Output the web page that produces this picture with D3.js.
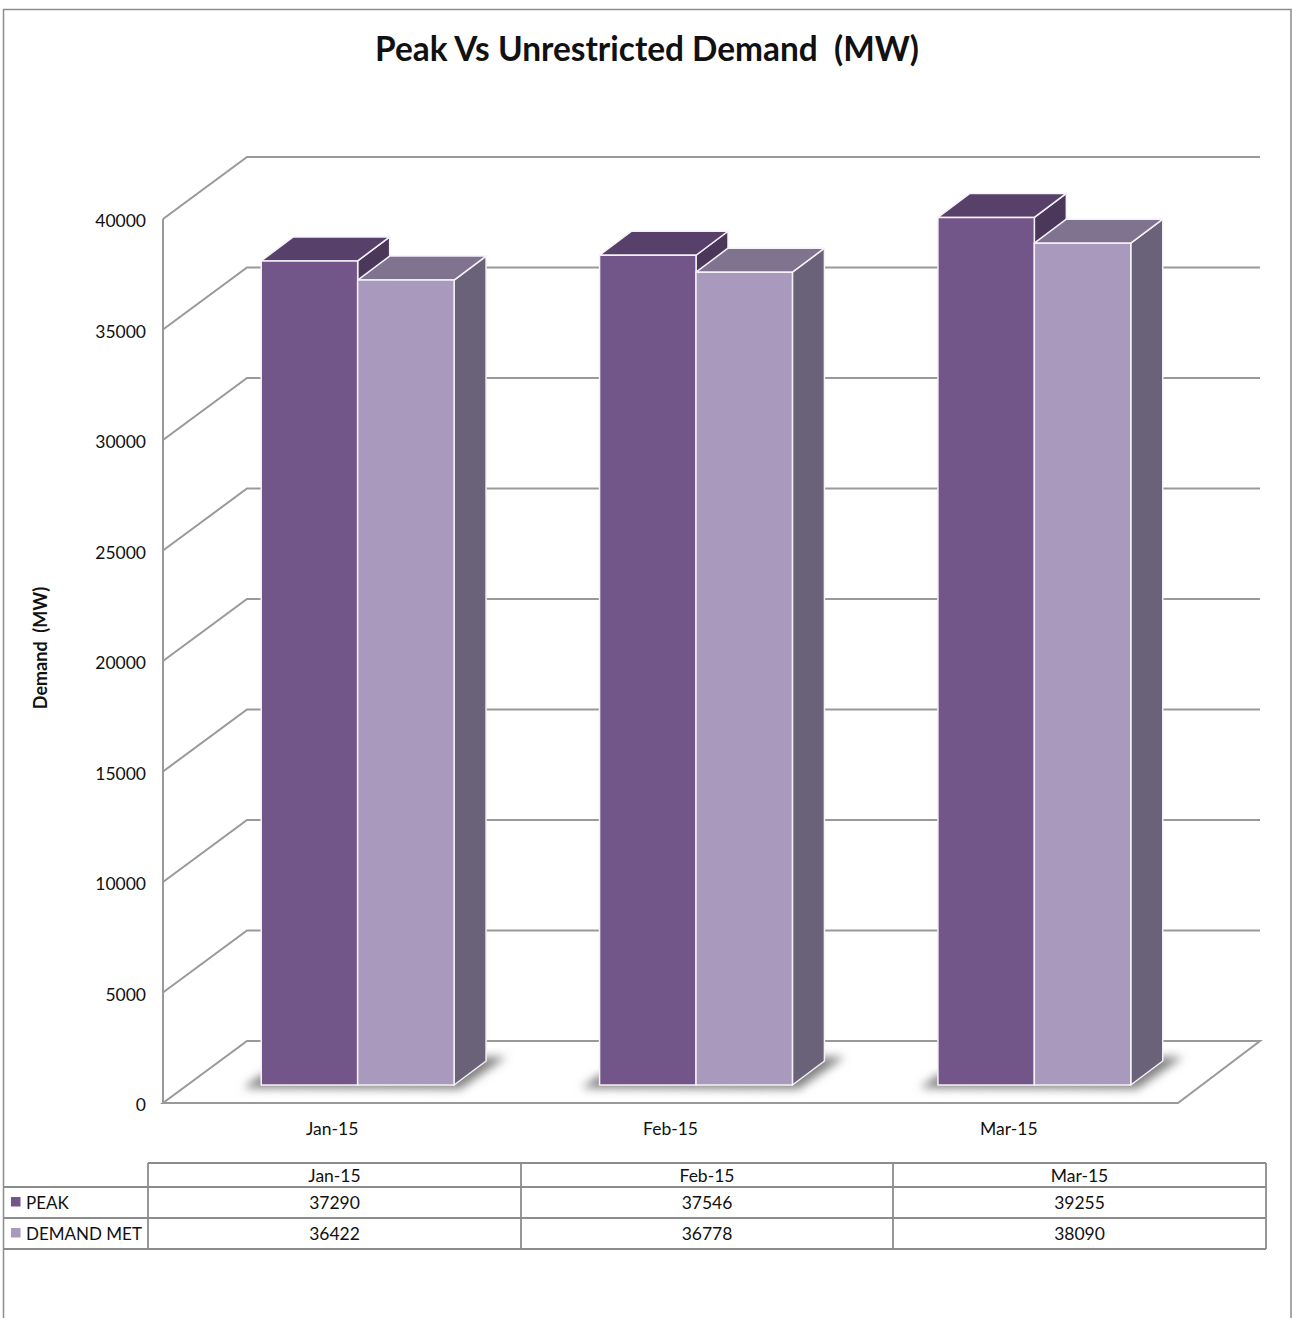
<!DOCTYPE html>
<html>
<head>
<meta charset="utf-8">
<script src="https://cdn.jsdelivr.net/npm/d3@7"></script>
<style>
  html, body { margin: 0; padding: 0; background: #fff; }
  svg { display: block; }
  text { font-family: Lato, "Open Sans", sans-serif; fill: #111; white-space: pre; }
</style>
</head>
<body>
<div id="chart"></div>
<script>
// chart data
const months = ["Jan-15", "Feb-15", "Mar-15"];
const seriesNames = ["PEAK", "DEMAND MET"];
const peak = [37290, 37546, 39255];
const demandMet = [36422, 36778, 38090];
const yTicks = [0, 5000, 10000, 15000, 20000, 25000, 30000, 35000, 40000];

const width = 1293, height = 1318;
const gridColor = "#999";
const labelSize = 17.5;

// front corner of the floor, and how far the back wall sits from it
const x0 = 163, x1 = 1178, y0 = 1103;
const wallDx = 84, wallDy = -62;
// bars stand a little in from the front edge of the floor
const barDx = 25.5, barDy = -18;
const depthDx = 32, depthDy = -24;

const colors = {
  PEAK: { front: "#735689", top: "#574069", side: "#4a3759" },
  "DEMAND MET": { front: "#a99abd", top: "#7f7390", side: "#6a6278" }
};

const svg = d3.select("#chart").append("svg")
  .attr("width", width)
  .attr("height", height);

const defs = svg.append("defs");
defs.append("filter").attr("id", "soft")
  .attr("filterUnits", "userSpaceOnUse")
  .attr("x", 0).attr("y", 1000).attr("width", width).attr("height", 150)
  .append("feGaussianBlur").attr("stdDeviation", 5);

const y = d3.scaleLinear().domain([0, 40000]).range([y0, 219]);
const xCat = d3.scaleBand().domain(months).range([x0, x1]).paddingInner(0.43).paddingOuter(0.215);
const xSeries = d3.scaleBand().domain(seriesNames).range([0, xCat.bandwidth()]);

// outer frame of the chart area
svg.append("path")
  .attr("d", `M3.5,${height}V9.5H1291V${height}`)
  .attr("fill", "none").attr("stroke", "#8c8c8c").attr("stroke-width", 1.5);

svg.append("text")
  .attr("x", 647).attr("y", 61)
  .attr("text-anchor", "middle")
  .attr("font-size", 33.4).attr("font-weight", 700)
  .text("Peak Vs Unrestricted Demand  (MW)");

// walls + floor
const wall = svg.append("g").attr("fill", "none").attr("stroke", gridColor).attr("stroke-width", 2);
wall.selectAll("path.grid").data(yTicks.slice(1)).enter().append("path")
  .attr("class", "grid")
  .attr("d", d => `M${x0},${y(d)}L${x0 + wallDx},${y(d) + wallDy}H1260`);
wall.append("path").attr("d", `M${x0},${y(40000)}V${y0}`);
wall.append("path").attr("d", `M${x0},${y0}H${x1}L1260,${y0 + wallDy}H${x0 + wallDx}Z`);

// bars
const groups = svg.selectAll("g.month").data(months).enter().append("g").attr("class", "month");

groups.each(function (month, i) {
  const g = d3.select(this);
  const left = xCat(month) + barDx;
  const right = left + xCat.bandwidth();
  const base = y0 + barDy;

  // blurred shadow on the floor
  g.append("path")
    .attr("d", `M${left - 18},${base + 3}L${left},${base - 10}L${right + depthDx},${base - 28}H${right + depthDx + 20}L${right + 6},${base + 4}Z`)
    .attr("fill", "#808080")
    .attr("filter", "url(#soft)");

  [peak, demandMet].forEach((values, s) => {
    const name = seriesNames[s];
    const c = colors[name];
    const xa = left + xSeries(name);
    const xb = xa + xSeries.bandwidth();
    const yt = y(values[i]) + barDy;
    const bar = g.append("g").attr("stroke", "#f4f2f6").attr("stroke-width", 1.5).attr("stroke-linejoin", "round");
    bar.append("path").attr("fill", c.side)
      .attr("d", `M${xb},${yt}L${xb + depthDx},${yt + depthDy}V${base + depthDy}L${xb},${base}Z`);
    bar.append("path").attr("fill", c.top)
      .attr("d", `M${xa},${yt}L${xa + depthDx},${yt + depthDy}H${xb + depthDx}L${xb},${yt}Z`);
    bar.append("rect").attr("fill", c.front)
      .attr("x", xa).attr("y", yt)
      .attr("width", xb - xa).attr("height", base - yt);
  });
});

// y axis
const yAxis = svg.append("g")
  .attr("transform", "translate(146,0)")
  .call(d3.axisLeft(y).tickValues(yTicks).tickSize(0).tickPadding(0).tickFormat(d3.format("d")));
yAxis.select(".domain").remove();
yAxis.selectAll("text").attr("font-size", labelSize).attr("dy", "0.43em").style("font-family", "Lato").attr("fill", "#111");

svg.append("text")
  .attr("transform", "translate(47,648) rotate(-90)")
  .attr("text-anchor", "middle")
  .attr("font-size", 18).attr("font-weight", 700)
  .text("Demand  (MW)");

// x axis labels
const xAxis = svg.append("g")
  .attr("transform", "translate(0,1135)")
  .call(d3.axisBottom(xCat).tickSize(0).tickPadding(0));
xAxis.select(".domain").remove();
xAxis.selectAll("text").attr("font-size", labelSize).attr("y", 0).attr("dy", 0).style("font-family", "Lato").attr("fill", "#111");

// data table under the chart
const colEdges = [148, 521, 893, 1266];
const rowEdges = [1163, 1187, 1218, 1249];
const table = svg.append("g").attr("stroke", "#8c8c8c").attr("stroke-width", 1.8).attr("fill", "none");
colEdges.forEach(cx => table.append("line").attr("x1", cx).attr("x2", cx).attr("y1", rowEdges[0]).attr("y2", rowEdges[3]));
table.append("line").attr("x1", colEdges[0]).attr("x2", colEdges[3]).attr("y1", rowEdges[0]).attr("y2", rowEdges[0]);
rowEdges.slice(1).forEach(ry => table.append("line").attr("x1", 4).attr("x2", colEdges[3]).attr("y1", ry).attr("y2", ry));

const cellX = i => (colEdges[i] + colEdges[i + 1]) / 2;
const cellText = (x, yy, t, anchor, size) => svg.append("text")
  .attr("x", x).attr("y", yy).attr("text-anchor", anchor || "middle")
  .attr("font-size", size || labelSize).text(t);

months.forEach((m, i) => {
  cellText(cellX(i), 1182, m);
  cellText(cellX(i), 1209, peak[i]);
  cellText(cellX(i), 1240, demandMet[i]);
});

seriesNames.forEach((name, s) => {
  const ry = s === 0 ? 1209 : 1240;
  svg.append("rect")
    .attr("x", 11).attr("y", ry - 12)
    .attr("width", 9.5).attr("height", 9.5)
    .attr("fill", colors[name].front);
  cellText(26, ry, name, "start", 17);
});
</script>
</body>
</html>
